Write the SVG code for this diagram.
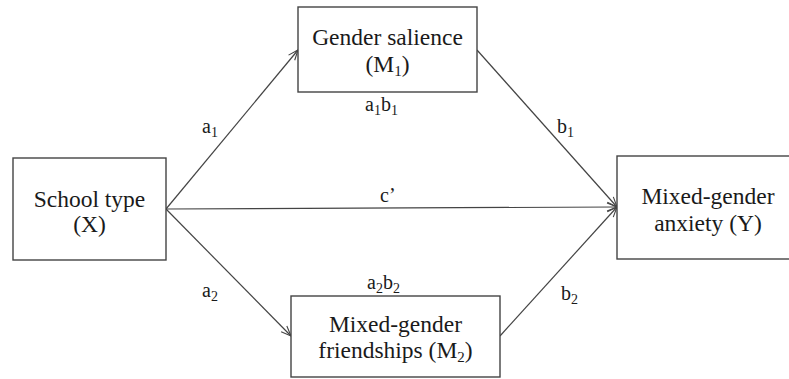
<svg xmlns="http://www.w3.org/2000/svg" width="789" height="379" viewBox="0 0 789 379">
<defs>
<style>
.box{fill:#fff;stroke:#444;stroke-width:1.4}
.nt{font-family:'Liberation Serif','Times New Roman',serif;font-size:23.5px;fill:#1a1a1a;text-anchor:middle}
.lb{font-family:'Liberation Serif','Times New Roman',serif;font-size:20px;fill:#1a1a1a}
.sub{font-size:14px}
.edge{stroke:#444;stroke-width:1.2;fill:none;marker-end:url(#arr)}
</style>
<marker id="arr" viewBox="0 0 12 10" refX="11" refY="5" markerWidth="12" markerHeight="10" markerUnits="userSpaceOnUse" orient="auto">
<path d="M1,1 L11,5 L1,9" fill="none" stroke="#444" stroke-width="1.1"/>
</marker>
</defs>
<rect width="789" height="379" fill="#fff"/>
<g id="connectors">
<line class="edge" x1="166" y1="209" x2="298" y2="50"/>
<line class="edge" x1="166" y1="209" x2="617" y2="207"/>
<line class="edge" x1="166" y1="209" x2="291" y2="336"/>
<line class="edge" x1="477" y1="50" x2="617" y2="207"/>
<line class="edge" x1="500" y1="336" x2="617" y2="207"/>
<text class="lb" x="202" y="133">a<tspan class="sub" dy="4">1</tspan></text>
<text class="lb" x="202" y="297">a<tspan class="sub" dy="4">2</tspan></text>
<text class="lb" x="365" y="111">a<tspan class="sub" dy="4">1</tspan><tspan dy="-4">b</tspan><tspan class="sub" dy="4">1</tspan></text>
<text class="lb" x="367" y="289">a<tspan class="sub" dy="4">2</tspan><tspan dy="-4">b</tspan><tspan class="sub" dy="4">2</tspan></text>
<text class="lb" x="557" y="133">b<tspan class="sub" dy="4">1</tspan></text>
<text class="lb" x="561" y="300">b<tspan class="sub" dy="4">2</tspan></text>
<text class="lb" x="380" y="202">c’</text>
</g>
<g id="X">
<rect class="box" x="13" y="158" width="153" height="102"/>
<text class="nt" x="89.5" y="207">School type</text>
<text class="nt" x="89.5" y="232">(X)</text>
</g>
<g id="M1">
<rect class="box" x="298" y="7" width="179" height="85"/>
<text class="nt" x="387.5" y="45">Gender salience</text>
<text class="nt" x="387.5" y="72">(M<tspan font-size="15" dy="4">1</tspan><tspan dy="-4">)</tspan></text>
</g>
<g id="M2">
<rect class="box" x="291" y="296" width="209" height="81"/>
<text class="nt" x="395.5" y="332">Mixed-gender</text>
<text class="nt" x="395.5" y="358">friendships (M<tspan font-size="15" dy="4">2</tspan><tspan dy="-4">)</tspan></text>
</g>
<g id="Y">
<rect class="box" x="617" y="156" width="182" height="103"/>
<text class="nt" x="708" y="204">Mixed-gender</text>
<text class="nt" x="708" y="231">anxiety (Y)</text>
</g>
</svg>
